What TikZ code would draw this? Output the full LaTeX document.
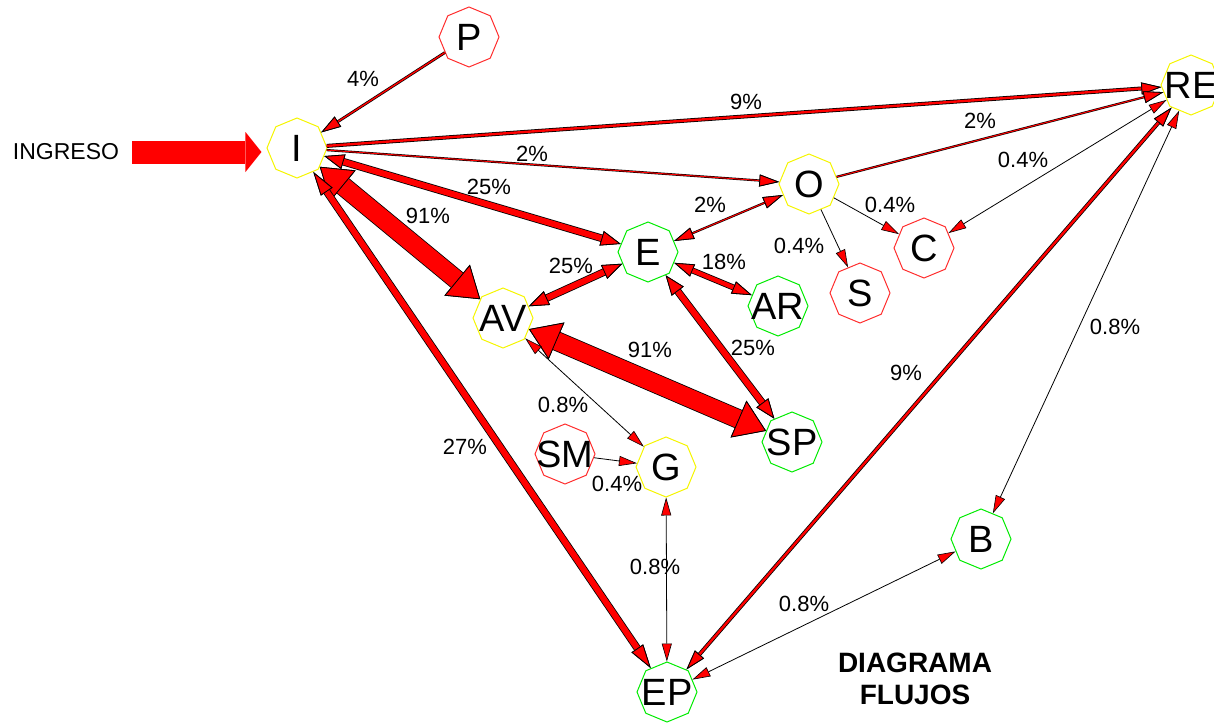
\documentclass[tikz,border=0pt]{standalone}
\usepackage{fontspec}
\setmainfont{Liberation Sans}
\usetikzlibrary{arrows.meta,shapes.geometric}

\definecolor{rojo}{RGB}{255,0,0}
\definecolor{verde}{RGB}{0,235,0}
\definecolor{amarillo}{RGB}{245,245,0}
\definecolor{rojoborde}{RGB}{255,45,45}

\tikzset{
  oct/.style={regular polygon, regular polygon sides=8, shape border rotate=22.5,
    draw, line width=0.5pt, minimum size=30pt, inner sep=0pt,
    label={[font=\fontsize{19}{19}\selectfont, inner sep=0pt]center:#1}},
  namar/.style={oct=#1, draw=amarillo},
  nverde/.style={oct=#1, draw=verde},
  nrojo/.style={oct=#1, draw=rojoborde},
  flujo/.style n args={4}{draw=rojo, line width=#1,
    preaction={draw=black, line width=#2},
    >={Triangle[length=#3,width=#4,fill=rojo,color=black,line width=0.4pt]}},
  f91/.style={flujo={9pt}{9.8pt}{15pt}{20pt}},
  f27/.style={flujo={3pt}{3.8pt}{12pt}{7pt}},
  f25/.style={flujo={3pt}{3.8pt}{10pt}{7.5pt}},
  f18/.style={flujo={2.2pt}{3pt}{10pt}{6.5pt}},
  f9/.style={flujo={1.2pt}{2pt}{10pt}{6pt}},
  f4/.style={flujo={0.7pt}{1.4pt}{10pt}{6pt}},
  f2/.style={flujo={0.5pt}{1.1pt}{10pt}{6pt}},
  fino/.style={draw=black, line width=0.4pt,
    >={Triangle[length=9pt,width=5pt,fill=rojo,color=black,line width=0.3pt]}},
  entrada/.style={draw=rojo, line width=11.5pt,
    -{Triangle[length=8pt,width=20pt,fill=rojo,color=rojo,line width=0pt]}}
}

\begin{document}
\begin{tikzpicture}[x=0.5pt,y=-0.5pt,font=\fontsize{11}{13}\selectfont]
\useasboundingbox (0,0) rectangle (1214,722);

% nodos
\node[nrojo=P] (P) at (469,37) {};
\node[namar=I] (I) at (297,148) {};
\node[namar=RE] (RE) at (1191,85) {};
\node[namar=O] (O) at (809,184) {};
\node[nrojo=C] (C) at (924,248) {};
\node[nrojo=S] (S) at (860,293) {};
\node[nverde=E] (E) at (648,252) {};
\node[nverde=AR] (AR) at (778,306) {};
\node[namar=AV] (AV) at (503,318) {};
\node[nverde=SP] (SP) at (792,442) {};
\node[nrojo=SM] (SM) at (565,454) {};
\node[namar=G] (G) at (666,467) {};
\node[nverde=B] (B) at (981,539) {};
\node[nverde=EP] (EP) at (667,692) {};

\node[font=\fontsize{11.5}{13}\selectfont] (ingreso) at (66,152) {INGRESO};
\node[font=\fontsize{14}{16}\selectfont\bfseries, align=center] (titulo) at (915,679) {DIAGRAMA\\FLUJOS};

% entrada
\draw[entrada, shorten >=2.5pt] ([xshift=3pt]ingreso.east) -- (ingreso.east -| I.west);

% flujos
\draw[f4,->] (P) -- (I);
\draw[f9,->] (I) -- (RE);
\draw[f2,->] (O) -- (RE);
\draw[f2,->] (I) -- (O);
\draw[f25,<->] (I) -- (E);
\draw[f91,<->] (I) -- (AV);
\draw[f27,<->] (I) -- (EP);
\draw[f2,<->] (O) -- (E);
\draw[fino,->] (O) -- (C);
\draw[fino,->] (O) -- (S);
\draw[fino,<->] (RE) -- (C);
\draw[f25,<->] (E) -- (AV);
\draw[f18,<->] (E) -- (AR);
\draw[f25,<->] (E) -- (SP);
\draw[f91,<->] (AV) -- (SP);
\draw[fino,<->] (AV) -- (G);
\draw[fino,->] (SM) -- (G);
\draw[fino,<->] (G) -- (EP);
\draw[f9,<->] (RE) -- (EP);
\draw[fino,<->] (RE) -- (B);
\draw[fino,<->] (B) -- (EP);

% porcentajes
\node (tPI) at (363,79) {4\%};
\node (tIRE) at (746,102) {9\%};
\node (tORE) at (980,121) {2\%};
\node (tREC) at (1023,160) {0.4\%};
\node (tIO) at (532,154) {2\%};
\node (tIE) at (489,187) {25\%};
\node (tIAV) at (428,216) {91\%};
\node (tOE) at (710,205) {2\%};
\node (tOC) at (890,205) {0.4\%};
\node (tOS) at (799,246) {0.4\%};
\node (tEAV) at (571,266) {25\%};
\node (tEAR) at (724,262) {18\%};
\node (tESP) at (753,348) {25\%};
\node (tAVSP) at (650,350) {91\%};
\node (tAVG) at (563,405) {0.8\%};
\node (tSMG) at (617,484) {0.4\%};
\node (tGEP) at (655,567) {0.8\%};
\node (tIEP) at (465,447) {27\%};
\node (tREEP) at (906,373) {9\%};
\node (tREB) at (1115,327) {0.8\%};
\node (tBEP) at (804,604) {0.8\%};
\end{tikzpicture}
\end{document}
